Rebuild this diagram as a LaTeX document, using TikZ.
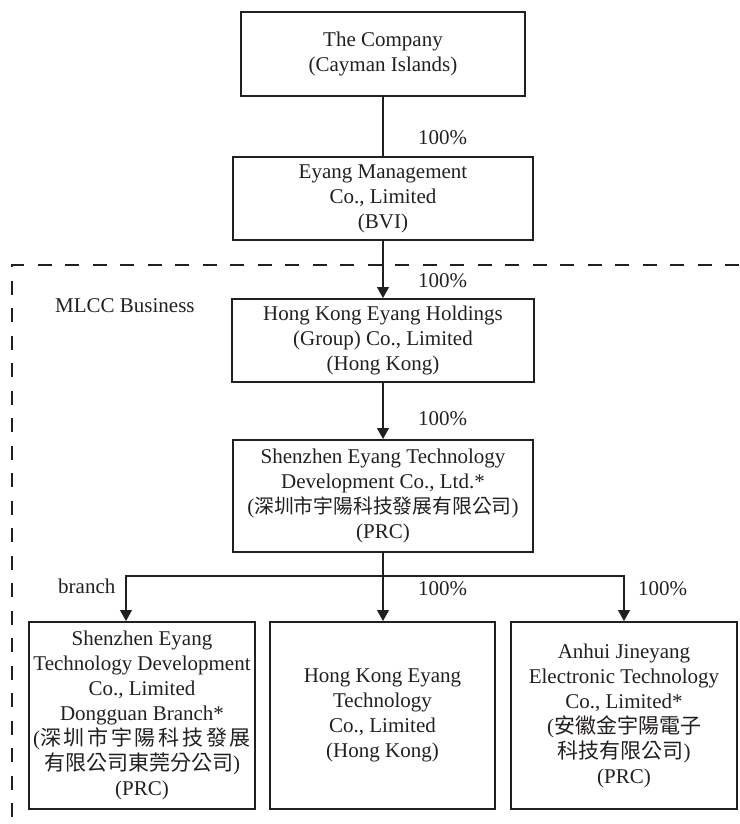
\documentclass[tikz,border=0pt]{standalone}
\usepackage{fontspec}
\setmainfont{Liberation Serif}
\newfontfamily\cjk{Noto Sans CJK TC}
\newfontfamily\cjkwide[LetterSpace=13]{Noto Sans CJK TC}
\usetikzlibrary{arrows.meta}
\definecolor{ink}{RGB}{35,31,32}
\tikzset{
  entity/.style={draw=ink, text=ink, line width=2pt, align=center, inner sep=0pt, font=\fontsize{21}{25}\selectfont},
  pct/.style={anchor=base west, inner sep=0pt, text=ink, font=\fontsize{21}{25}\selectfont},
  link/.style={ink, line width=1.2pt, -{Triangle[width=12pt,length=11pt]}},
}
\begin{document}
\begin{tikzpicture}[x=1pt,y=-1pt]
  \useasboundingbox (0,0) rectangle (739,824);
  \draw[ink, line width=1.1pt, dash pattern=on 14pt off 13.5pt] (739,265) -- (12,265) -- (12,824);

  \node[entity, minimum width=284pt, minimum height=84pt] (company) at (383,54) {The Company\\(Cayman Islands)};
  \node[entity, minimum width=300pt, minimum height=83pt] (bvi) at (383,198.5) {Eyang Management\\Co., Limited\\(BVI)};
  \node[entity, minimum width=302pt, minimum height=83pt] (hkgroup) at (383,340.5) {Hong Kong Eyang Holdings\\(Group) Co., Limited\\(Hong Kong)};
  \node[entity, minimum width=300pt, minimum height=112pt] (szdev) at (383,496) {Shenzhen Eyang Technology\\Development Co., Ltd.*\\({\fontsize{19.8}{25}\selectfont\cjk 深圳市宇陽科技發展有限公司})\\(PRC)};
  \node[entity, minimum width=226pt, minimum height=187pt] (dgbranch) at (142,715.5) {Shenzhen Eyang\\Technology Development\\Co., Limited\\Dongguan Branch*\\({\cjkwide 深圳市宇陽科技發展}\\{\cjk 有限公司東莞分公司})\\(PRC)};
  \node[entity, minimum width=225pt, minimum height=187pt] (hktech) at (382.5,715.5) {Hong Kong Eyang\\Technology\\Co., Limited\\(Hong Kong)};
  \node[entity, minimum width=226pt, minimum height=187pt] (anhui) at (624,715.5) {Anhui Jineyang\\Electronic Technology\\Co., Limited*\\({\cjk 安徽金宇陽電子}\\{\cjk 科技有限公司})\\(PRC)};

  \coordinate (fork) at (szdev.south |- 0,576);
  \draw[ink, line width=1.2pt] (company) -- (bvi);
  \draw[link] (bvi) -- (hkgroup);
  \draw[link] (hkgroup) -- (szdev);
  \draw[link] (szdev.south) -- (szdev.south |- hktech.north);
  \draw[link] (fork) -| ([xshift=-16pt]dgbranch.north);
  \draw[link] (fork) -| (anhui.north);

  \node[pct] (mlcc) at (55,312) {MLCC Business};
  \node[pct] (branch) at (58,593) {branch};
  \node[pct] (pcta) at (418,144) {100\%};
  \node[pct] (pctb) at (418,287) {100\%};
  \node[pct] (pctc) at (418,425) {100\%};
  \node[pct] (pctd) at (418,595) {100\%};
  \node[pct] (pcte) at (638,595) {100\%};
\end{tikzpicture}
\end{document}
